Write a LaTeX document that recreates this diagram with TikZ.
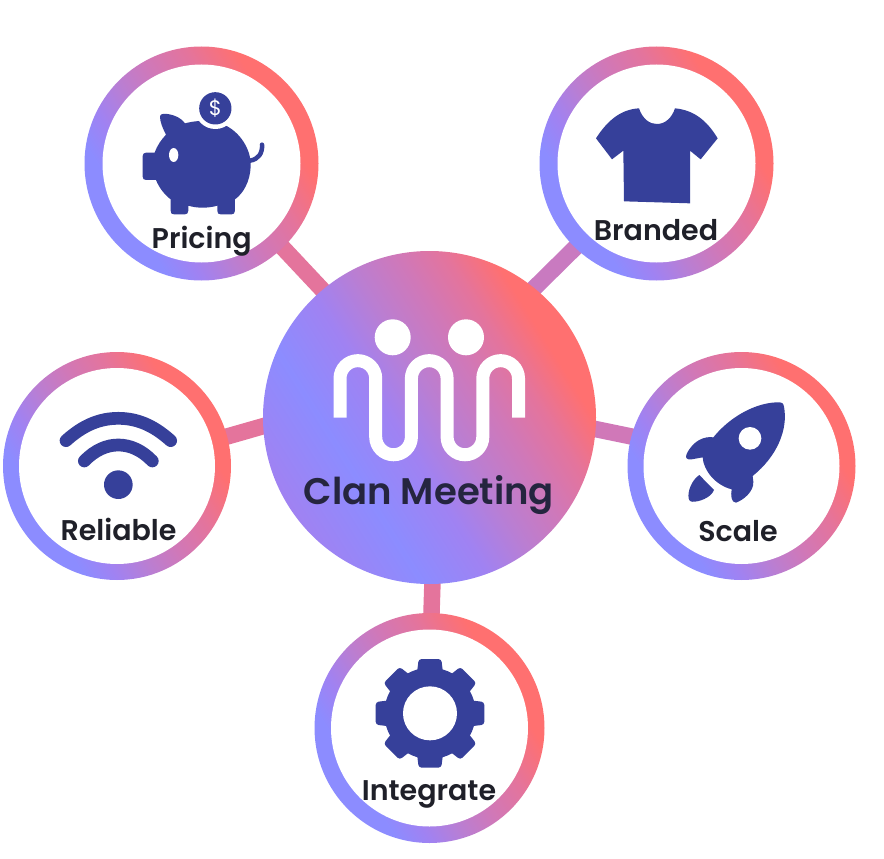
\documentclass[tikz,border=0pt]{standalone}
\usepackage{fontspec}
\usepackage{xcolor}
\usetikzlibrary{backgrounds}
\setmainfont{Poppins}[BoldFont={Poppins SemiBold}]

\definecolor{rampblue}{HTML}{8C8CFF}
\definecolor{rampviolet}{HTML}{A082F2}
\definecolor{rampmauve}{HTML}{BA7ED2}
\definecolor{ramporchid}{HTML}{D078B8}
\definecolor{ramprose}{HTML}{E4749C}
\definecolor{rampcoral}{HTML}{FF7070}
\definecolor{iconblue}{HTML}{36409A}
\definecolor{inkdark}{HTML}{1F2029}
\definecolor{inkhub}{HTML}{25253F}

\pgfdeclarehorizontalshading{ringramp}{100bp}{color(0bp)=(rampblue); color(31bp)=(rampblue);
  color(37bp)=(rampviolet); color(44.25bp)=(rampmauve); color(51.5bp)=(ramporchid);
  color(60bp)=(ramprose); color(69bp)=(rampcoral); color(100bp)=(rampcoral)}
\pgfdeclarehorizontalshading{hubramp}{100bp}{color(0bp)=(rampviolet); color(25bp)=(rampviolet);
  color(35.9bp)=(rampblue); color(45bp)=(rampviolet); color(52bp)=(rampmauve);
  color(59bp)=(ramporchid); color(65bp)=(ramprose); color(71bp)=(rampcoral); color(100bp)=(rampcoral)}

\tikzset{
  ringnode/.style={circle, inner sep=0pt, minimum size=#1, shading=ringramp, shading angle=32},
  discnode/.style={circle, inner sep=0pt, minimum size=#1, fill=white},
  hubnode/.style={circle, inner sep=0pt, minimum size=333pt, shading=hubramp, shading angle=32},
  wire/.style={line width=16.5pt, shorten <=-3pt, shorten >=-3pt},
  labeltext/.style={text=inkdark, anchor=base, font=\fontsize{28.5}{28.5}\selectfont\bfseries, inner sep=0pt},
  iconfill/.style={fill=iconblue},
  iconline/.style={draw=iconblue, line cap=round, line width=12.7pt},
}

\begin{document}
\begin{tikzpicture}[x=1pt,y=-1pt]
    \useasboundingbox (0,0) rectangle (884,859);

    % Draw the hub and the five rings
    \node[hubnode] (hub) at (429.5,417.5) {};
    \foreach \name/\cx/\cy/\outer/\inner in {pricing/201.5/163.5/234pt/198pt, branded/656.5/163.5/234pt/198pt,
        reliable/117/466/228pt/196pt, scale/741.5/466/228pt/196pt, integrate/429.5/728/230pt/197pt} {
        \node[ringnode=\outer] (\name) at (\cx,\cy) {};
        \node[discnode=\inner] (\name-disc) at (\cx,\cy) {};
    }

    % Draw the connectors behind them
    \begin{scope}[on background layer]
        \draw[wire, draw=ramprose] (pricing.-46) -- (hub.130);
        \draw[wire, draw=ramporchid!70!rampmauve] (branded.-134.5) -- (hub.51);
        \draw[wire, draw=ramprose] (reliable.15) -- (hub.183);
        \draw[wire, draw=ramporchid] (scale.165) -- (hub.-4);
        \draw[wire, draw=ramprose] (integrate.89.5) -- (hub.-89.66);
    \end{scope}

    % Hub logo
    \fill[white] (392.7,337.3) circle (18);
    \fill[white] (466,337.3) circle (18);
    \draw[white, line width=13pt] (340,417.7) -- (340,378.5) arc (180:360:17.85) -- (375.7,436.9)
        arc (180:0:17.85) -- (411.4,378.5) arc (180:360:17.85) -- (447.1,436.9)
        arc (180:0:17.85) -- (482.8,378.5) arc (180:360:17.85) -- (518.5,417.7);

    % Piggy bank
    \begin{scope}[shift={(80,40)},scale=1/3]
        \fill[iconfill] (198,338) -- (224,338) .. controls (232,315) and (245,298) .. (258,284)
            .. controls (248,265) and (240,245) .. (240,230) .. controls (240,222) and (250,220) .. (262,222)
            .. controls (285,225) and (305,235) .. (315,250) .. controls (345,242) and (400,235) .. (440,258)
            .. controls (490,285) and (515,340) .. (512,380) .. controls (510,425) and (490,460) .. (465,478)
            -- (465,512) .. controls (465,520) and (460,523) .. (455,523) -- (422,523)
            .. controls (415,523) and (412,520) .. (412,512) -- (412,497)
            .. controls (385,505) and (350,505) .. (325,497) -- (325,512)
            .. controls (325,520) and (320,523) .. (315,523) -- (282,523)
            .. controls (275,523) and (272,520) .. (272,512) -- (272,478)
            .. controls (255,465) and (238,445) .. (228,420) -- (198,420)
            .. controls (191,420) and (188,416) .. (188,410) -- (188,348)
            .. controls (188,342) and (192,338) .. (198,338) -- cycle;
        \draw[iconline, line width=4.5pt] (510,362) .. controls (535,358) and (548,340) .. (546,314);
        \fill[white] (281,345) ellipse (14 and 21);
        \fill[white] (406,205) circle (62);
        \fill[iconfill] (406,205) circle (48.5);
        \node[text=white, font=\fontsize{21}{21}\selectfont, inner sep=0pt] (coinsign) at (406,205) {\$};
    \end{scope}

    % Shirt
    \begin{scope}[shift={(570,80)},scale=1/3]
        \fill[iconfill] (207,85) .. controls (218,118) and (240,132) .. (260,132)
            .. controls (285,132) and (305,115) .. (315,85) .. controls (370,90) and (410,120) .. (443,175)
            -- (392,238) -- (360,212) -- (360,370) -- (162,364) -- (160,212) -- (126,238) -- (78,175)
            .. controls (110,125) and (150,88) .. (207,85) -- cycle;
    \end{scope}

    % Wifi
    \begin{scope}[shift={(40,390)},scale=1/3]
        \draw[iconline] (78,152) .. controls (130,105) and (180,85) .. (235,85)
            .. controls (290,85) and (340,105) .. (392,152);
        \draw[iconline] (133,213) .. controls (165,180) and (200,165) .. (235,165)
            .. controls (270,165) and (305,180) .. (337,213);
        \fill[iconfill] (235,284) circle (43);
    \end{scope}

    % Rocket
    \begin{scope}[shift={(630,350)},scale=1/3]
        \fill[iconfill] (450,157) .. controls (380,155) and (300,200) .. (250,262)
            .. controls (225,258) and (190,270) .. (170,312) .. controls (164,325) and (172,330) .. (185,328)
            -- (218,322) .. controls (220,360) and (255,405) .. (305,418)
            .. controls (302,435) and (303,458) .. (318,458) .. controls (340,450) and (372,425) .. (370,395)
            -- (368,378) .. controls (440,320) and (475,240) .. (462,170)
            .. controls (460,160) and (456,157) .. (450,157) -- cycle;
        \fill[white] (360,265) circle (34);
        \fill[iconfill] (208,375) .. controls (185,390) and (172,425) .. (176,445)
            .. controls (178,455) and (185,456) .. (195,455) .. controls (220,452) and (245,438) .. (252,420) -- cycle;
    \end{scope}

    % Gear
    \begin{scope}[shift={(310,610)},scale=1/3]
        \fill[iconfill] (360,310) circle (137);
        \foreach \a in {0,45,...,315} {
            \fill[iconfill, rounded corners=3pt, rotate around={\a:(360,310)}] (326,147) -- (394,147) -- (404,230) -- (316,230) -- cycle;
        }
        \fill[white] (360,310) circle (81);
    \end{scope}

    % Labels
    \node[labeltext] (pricing-text) at (201.7,248) {Pricing};
    \node[labeltext] (branded-text) at (656,240) {Branded};
    \node[labeltext] (reliable-text) at (118.5,540.5) {Reliable};
    \node[labeltext] (scale-text) at (738,541) {Scale};
    \node[labeltext] (integrate-text) at (429,800) {Integrate};
    \node[labeltext, text=inkhub, font=\fontsize{37}{37}\selectfont\bfseries] (hub-text) at (429,504) {Clan Meeting};
\end{tikzpicture}
\end{document}
